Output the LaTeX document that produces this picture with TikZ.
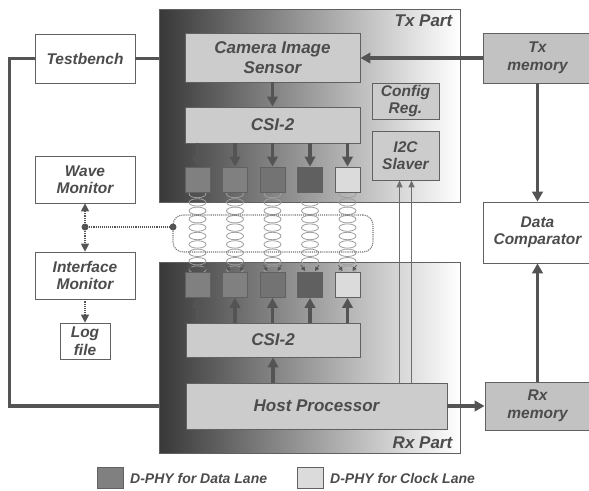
\documentclass[tikz,border=0pt]{standalone}
\usepackage{fontspec}
\newfontfamily\diagfont{Liberation Sans}
\usetikzlibrary{arrows.meta}

\begin{document}
\begin{tikzpicture}[x=1pt,y=-1pt,
  partbox/.style={draw=frameColor,line width=0.9pt,left color=black!78,right color=white,inner sep=0pt,minimum width=301pt},
  unitbox/.style={draw=frameColor,line width=0.9pt,fill=unitColor,inner sep=0pt,align=center,text=textColor,font=\diagfont\bfseries\itshape\fontsize{17}{20}\selectfont},
  sidebox/.style={draw=frameColor,line width=0.7pt,fill=white,inner sep=0pt,align=center,text=textColor,font=\diagfont\bfseries\itshape\fontsize{15.5}{17.5}\selectfont},
  membox/.style={sidebox,fill=memColor,line width=0.9pt},
  smallunit/.style={unitbox,font=\diagfont\bfseries\itshape\fontsize{15.5}{17.5}\selectfont},
  lanebox/.style={draw=frameColor,line width=0.9pt,inner sep=0pt,minimum width=25pt,minimum height=25pt},
  partlabel/.style={inner sep=0pt,text=textColor,font=\diagfont\bfseries\itshape\fontsize{17}{20}\selectfont},
  legendtext/.style={inner sep=0pt,anchor=west,text=textColor,font=\diagfont\bfseries\itshape\fontsize{14}{16}\selectfont},
  bus/.style={draw=busColor,line width=3.2pt,-{Triangle[width=10.5pt,length=10pt]}},
  plainbus/.style={draw=busColor,line width=3.2pt},
  ctrlline/.style={draw=busColor!85,line width=1.4pt,-{Triangle[width=6pt,length=7pt]}},
  probe/.style={draw=busColor,line width=1.1pt,densely dotted,-{Triangle[width=8pt,length=8pt]}},
  probeline/.style={draw=busColor,line width=1.1pt,densely dotted},
  coil/.style={draw=coilColor,line width=0.8pt},
  tinyarrow/.style={draw=busColor,line width=0.7pt,-{Triangle[width=4pt,length=4pt]}}]
\definecolor{frameColor}{gray}{0.38}
\definecolor{unitColor}{gray}{0.80}
\definecolor{memColor}{gray}{0.76}
\definecolor{textColor}{gray}{0.30}
\definecolor{busColor}{gray}{0.33}
\definecolor{coilColor}{gray}{0.62}
\definecolor{dataColor}{gray}{0.50}
\definecolor{clockColor}{gray}{0.86}

\clip (0,0) rectangle (589,490);
\fill[white] (0,0) rectangle (589,490);

\node[partbox,minimum height=193pt] (txpart) at (309.5,105.5) {};
\node[partbox,minimum height=191pt] (rxpart) at (309.5,357.5) {};
\node[partlabel,anchor=north east] (txlabel) at ([xshift=-8pt,yshift=-6pt]txpart.north east) {Tx Part};
\node[partlabel,anchor=south east] (rxlabel) at ([xshift=-8pt,yshift=5pt]rxpart.south east) {Rx Part};

\node[unitbox,minimum width=175pt,minimum height=49pt] (sensor) at (272.5,57.5) {Camera Image\\Sensor};
\node[unitbox,minimum width=175pt,minimum height=36pt] (txcsi) at (272.5,125) {CSI-2};
\node[smallunit,minimum width=67pt,minimum height=36pt] (config) at (405.5,101) {Config\\Reg.};
\node[smallunit,minimum width=67pt,minimum height=49pt] (i2c) at (405.5,155.5) {I2C\\Slaver};

\node[unitbox,minimum width=174pt,minimum height=34pt] (rxcsi) at (273,340) {CSI-2};
\node[unitbox,minimum width=261pt,minimum height=46pt] (host) at (316.5,406) {Host Processor};

\foreach \cx in {197.5,235,272.5,310,347.5}
  \foreach \k in {0,...,9}
    \draw[coil] (\cx,194+\k*8.4) ellipse [x radius=8.5, y radius=3.7];

\node[lanebox,fill=dataColor] (tx1) at (197.5,179.5) {};
\node[lanebox,fill=dataColor] (tx2) at (235,179.5) {};
\node[lanebox,fill=dataColor!90!black] (tx3) at (272.5,179.5) {};
\node[lanebox,fill=dataColor!75!black] (tx4) at (310,179.5) {};
\node[lanebox,fill=clockColor] (tx5) at (347.5,179.5) {};
\node[lanebox,fill=dataColor] (rx1) at (197.5,285) {};
\node[lanebox,fill=dataColor] (rx2) at (235,285) {};
\node[lanebox,fill=dataColor!90!black] (rx3) at (272.5,285) {};
\node[lanebox,fill=dataColor!75!black] (rx4) at (310,285) {};
\node[lanebox,fill=clockColor] (rx5) at (347.5,285) {};

\foreach \i in {1,...,5} {
  \draw[bus] (txcsi.south -| tx\i.north) -- (tx\i.north);
  \draw[bus] (rxcsi.north -| rx\i.south) -- (rx\i.south);
  \draw[tinyarrow] ([xshift=-9pt,yshift=7pt]rx\i.north) -- ([xshift=-5pt,yshift=1pt]rx\i.north);
  \draw[tinyarrow] ([xshift=9pt,yshift=7pt]rx\i.north) -- ([xshift=5pt,yshift=1pt]rx\i.north);
}

\node[draw=busColor!80,line width=1.1pt,densely dotted,rounded corners=10pt,minimum width=200pt,minimum height=37pt] (coilbox) at (273,233.5) {};

\node[sidebox,minimum width=100pt,minimum height=49pt] (testbench) at (85,58.5) {Testbench};
\node[sidebox,minimum width=100pt,minimum height=47pt] (wave) at (85,179.5) {Wave\\Monitor};
\node[sidebox,minimum width=100pt,minimum height=47pt] (iface) at (85,275.5) {Interface\\Monitor};
\node[sidebox,minimum width=50pt,minimum height=36pt] (logfile) at (85,341) {Log\\file};

\node[membox,minimum width=109pt,minimum height=50pt] (txmem) at (537.5,58) {Tx\\memory};
\node[sidebox,minimum width=109pt,minimum height=61pt] (compare) at (537.5,232.5) {Data\\Comparator};
\node[membox,minimum width=105pt,minimum height=48pt] (rxmem) at (537.5,406) {Rx\\memory};

\coordinate (tap) at (85,227);
\coordinate (boxtap) at (173,227);
\draw[probeline] (tap) -- (boxtap);
\draw[probe] (tap) -- (wave.south);
\draw[probe] (tap) -- (iface.north);
\draw[probe] (iface.south) -- (logfile.north);
\fill[busColor] (tap) circle (3.5);
\fill[busColor] (boxtap) circle (3.5);

\draw[bus] (sensor.south) -- (txcsi.north);
\draw[bus] (host.north -| rxcsi.south) -- (rxcsi.south);
\draw[bus] (txmem.west) -- (sensor.east |- txmem.west);
\draw[bus] (host.east) -- (rxmem.west);
\draw[bus] (txmem.south) -- (compare.north);
\draw[bus] (rxmem.north) -- (compare.south);
\draw[plainbus] (testbench.east) -- (txpart.west |- testbench.east);
\draw[plainbus] (testbench.west) -- ++(-25,0) |- (rxpart.west |- host.west);
\draw[ctrlline] ([xshift=-6pt]i2c.south |- host.north) -- ([xshift=-6pt]i2c.south);
\draw[ctrlline] ([xshift=6pt]i2c.south |- host.north) -- ([xshift=6pt]i2c.south);

\node[lanebox,fill=dataColor,minimum width=26pt,minimum height=21pt] (legdata) at (110,477.5) {};
\node[legendtext] (legdatatext) at (130,478) {D-PHY for Data Lane};
\node[lanebox,fill=clockColor,minimum width=26pt,minimum height=21pt] (legclock) at (310,477.5) {};
\node[legendtext] (legclocktext) at (330,478) {D-PHY for Clock Lane};
\end{tikzpicture}
\end{document}
